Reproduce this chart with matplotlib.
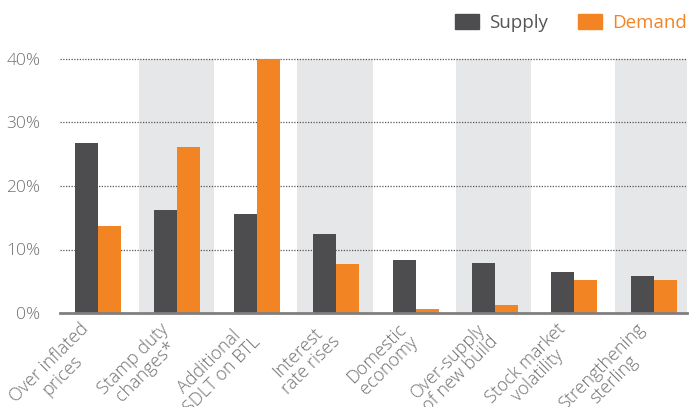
import matplotlib
matplotlib.use("Agg")
import matplotlib.pyplot as plt
import matplotlib.patches as patches
import matplotlib.transforms as transforms
import numpy as np

plt.rcParams["font.family"] = ["Open Sans", "DejaVu Sans"]
plt.rcParams["font.weight"] = "light"

categories = [
    "Over inflated\nprices",
    "Stamp duty\nchanges*",
    "Additional\nSDLT on BTL",
    "Interest\nrate rises",
    "Domestic\neconomy",
    "Over-supply\nof new build",
    "Stock market\nvolatility",
    "Strengthening\nsterling",
]
supply = [26.7, 16.2, 15.6, 12.4, 8.4, 7.8, 6.5, 5.8]
demand = [13.7, 26.1, 40.0, 7.7, 0.6, 1.2, 5.2, 5.2]
yticks = [0, 10, 20, 30, 40]

supply_color = "#4d4d4f"
demand_color = "#f38423"
band_color = "#e6e7e8"
text_color = "#707070"

fig = plt.figure(figsize=(6.91, 4.07), dpi=100)
ax = fig.add_axes([60 / 691, 1 - 313 / 407, 627 / 691, 254 / 407])

x = np.arange(len(categories))
width = 0.29

# alternate shaded columns
for i in x[1::2]:
    ax.axvspan(i - 0.49, i + 0.46, color=band_color, lw=0, zorder=0)

ax.bar(x - width, supply, width, align="edge", color=supply_color, zorder=3)
ax.bar(x, demand, width, align="edge", color=demand_color, zorder=3)

ax.set_xlim(-0.48, 7.42)
ax.set_ylim(0, 40)
ax.set_yticks(yticks)
ax.set_yticklabels([f"{v}%" for v in yticks])
for v in yticks[1:]:
    ax.axhline(v, color="#555555", lw=0.9, ls=(0, (1, 1.2)), zorder=2, clip_on=False)

for side in ["top", "right", "left"]:
    ax.spines[side].set_visible(False)
ax.spines["bottom"].set_color("#7f7f7f")
ax.spines["bottom"].set_linewidth(2)
ax.spines["bottom"].set_zorder(4)

ax.tick_params(axis="y", length=0, pad=14, labelsize=12.5, labelcolor=text_color)
ax.tick_params(axis="x", length=0, pad=5)
ax.set_xticks(x)
ax.set_xticklabels(categories, rotation=45, ha="right", va="top",
                   multialignment="center", fontsize=13, color=text_color,
                   linespacing=1.0)
shift = transforms.ScaledTranslation(7 / 100, 0, fig.dpi_scale_trans)
for lbl in ax.get_xticklabels():
    lbl.set_transform(lbl.get_transform() + shift)

handles = [patches.Patch(color=supply_color), patches.Patch(color=demand_color)]
leg = ax.legend(handles, ["Supply", "Demand"], ncol=2, frameon=False,
                loc="upper right", bbox_to_anchor=(1.0, 1 - 10 / 407),
                bbox_transform=fig.transFigure,
                prop={"size": 13.5, "weight": "normal"},
                handlelength=1.28, handleheight=0.85, handletextpad=0.55,
                columnspacing=1.6, borderaxespad=0.0, borderpad=0.2,
                labelcolor=["#555555", demand_color])

fig.savefig("out.png", dpi=100)
